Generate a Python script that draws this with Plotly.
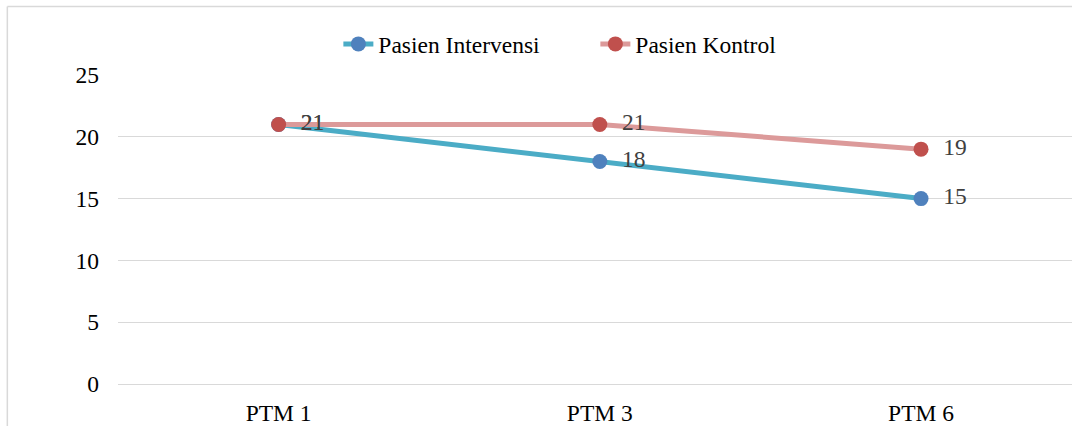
import plotly.graph_objects as go

categories = ["PTM 1", "PTM 3", "PTM 6"]
intervensi = [21, 18, 15]
kontrol = [21, 21, 19]
y_ticks = [0, 5, 10, 15, 20, 25]

FONT = "Liberation Serif"
FS = 23.5
NB = "\u00a0\u00a0"

fig = go.Figure()
fig.add_trace(go.Scatter(
    x=categories, y=intervensi, name="Pasien Intervensi",
    mode="lines+markers+text",
    line=dict(color="#4bacc6", width=5),
    marker=dict(color="#4f81bd", size=15),
    text=[NB + str(v) for v in intervensi], textposition="middle right",
    textfont=dict(family=FONT, size=FS, color="#404040"),
    cliponaxis=False,
))
fig.add_trace(go.Scatter(
    x=categories, y=kontrol, name="Pasien Kontrol",
    mode="lines+markers+text",
    line=dict(color="#dc9a9a", width=5),
    marker=dict(color="#c0504d", size=15),
    text=[NB + str(v) for v in kontrol], textposition="middle right",
    textfont=dict(family=FONT, size=FS, color="#404040"),
    cliponaxis=False,
))

fig.update_layout(
    width=1072, height=426, autosize=False,
    margin=dict(l=118, r=0, t=75, b=40),
    paper_bgcolor="white", plot_bgcolor="white",
    font=dict(family=FONT, size=FS, color="#000000"),
    showlegend=True,
    legend=dict(orientation="h", x=0.231, xanchor="left", y=1.1, yanchor="middle",
                entrywidth=212, entrywidthmode="pixels",
                font=dict(family=FONT, size=FS, color="#000000"),
                bgcolor="rgba(0,0,0,0)"),
    xaxis=dict(type="category", range=[-0.5, 2.47], showgrid=False, showline=False,
               zeroline=False, ticks="", ticklabelstandoff=12,
               tickfont=dict(family=FONT, size=FS, color="#000000")),
    yaxis=dict(range=[0, 25], tickvals=y_ticks, showgrid=True, gridcolor="#d9d9d9",
               gridwidth=1, zeroline=True, zerolinecolor="#d9d9d9", zerolinewidth=1,
               showline=False, ticks="", ticklabelstandoff=18,
               tickfont=dict(family=FONT, size=FS, color="#000000")),
    shapes=[
        dict(type="line", xref="paper", yref="paper", x0=-0.116, x1=1.0, y0=1.222, y1=1.222,
             line=dict(color="#d9d9d9", width=1.5)),
        dict(type="line", xref="paper", yref="paper", x0=-0.116, x1=-0.116, y0=1.222, y1=-0.2,
             line=dict(color="#d9d9d9", width=1.5)),
    ],
)

fig.write_html(
    "out.html",
    config={"displayModeBar": False, "responsive": False},
    post_script="document.documentElement.style.overflow='hidden';document.body.style.margin='0';document.body.style.overflow='hidden';",
)
